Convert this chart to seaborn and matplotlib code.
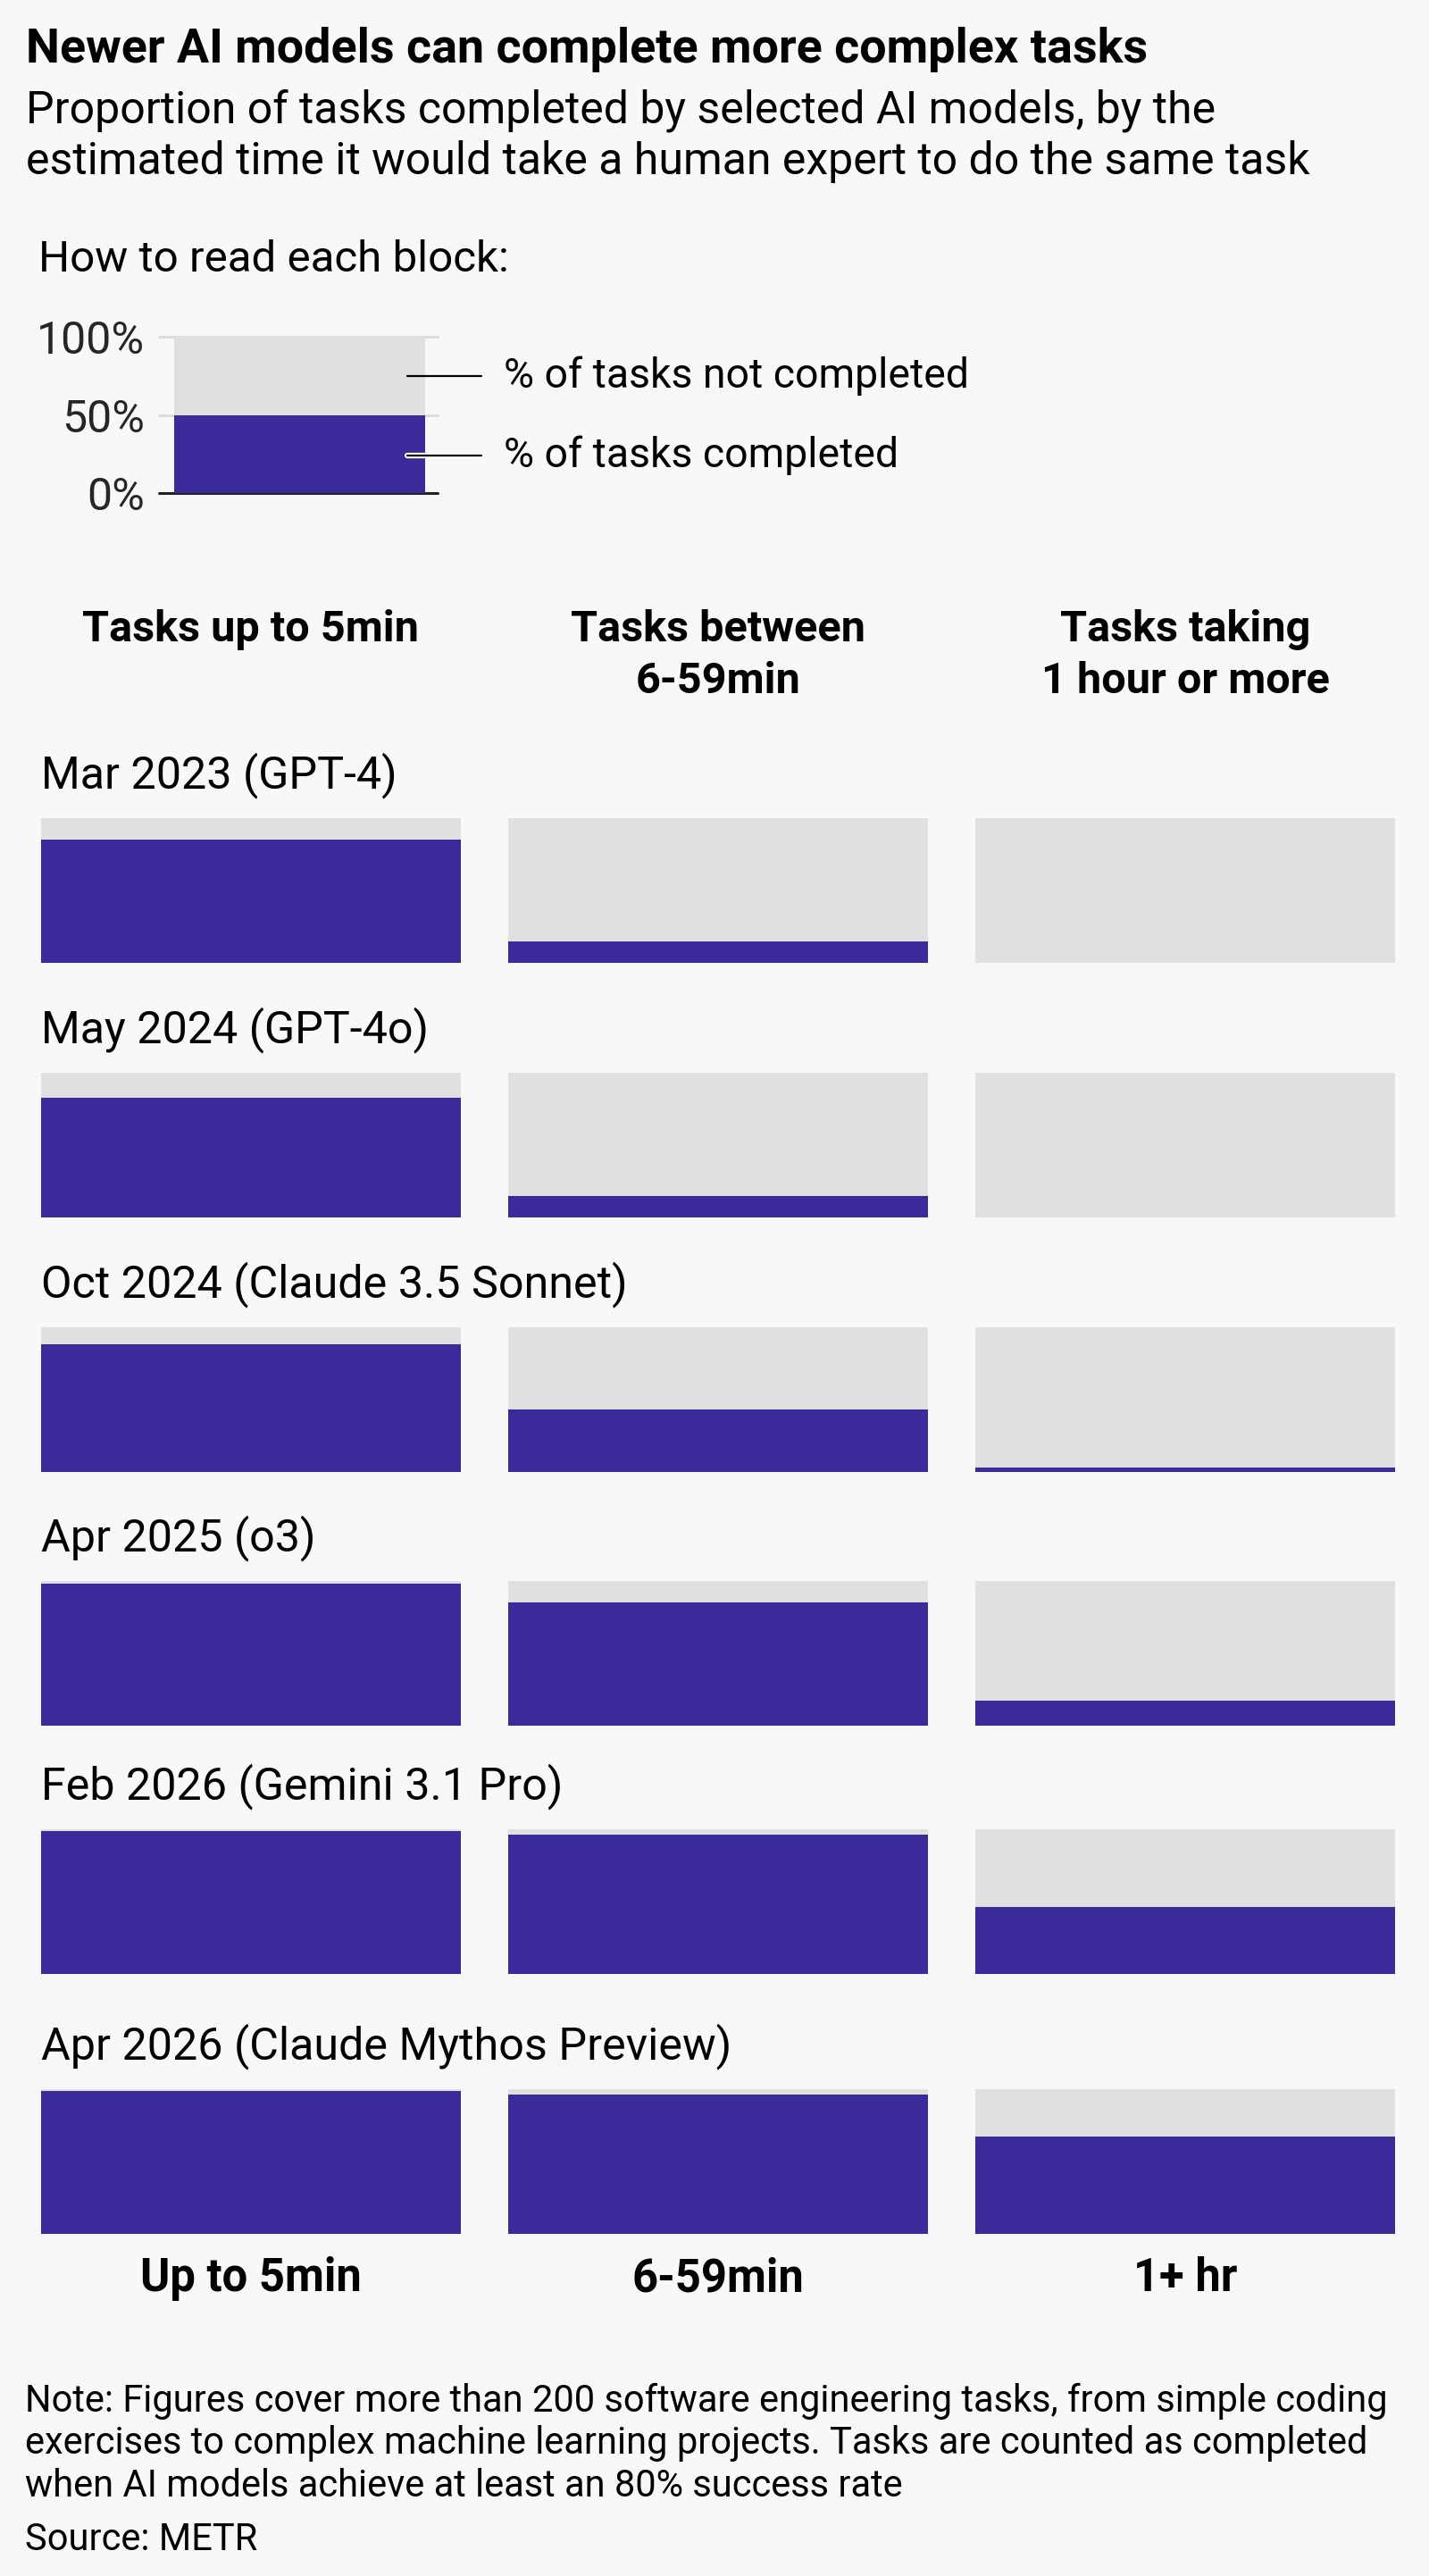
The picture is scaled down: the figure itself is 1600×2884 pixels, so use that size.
import numpy as np
import pandas as pd
import matplotlib
matplotlib.use("Agg")
import matplotlib.pyplot as plt
import matplotlib.patheffects as pe
import seaborn as sns

# data: % of tasks completed (80% success rate) by task length
models = ["Mar 2023 (GPT-4)", "May 2024 (GPT-4o)", "Oct 2024 (Claude 3.5 Sonnet)",
          "Apr 2025 (o3)", "Feb 2026 (Gemini 3.1 Pro)", "Apr 2026 (Claude Mythos Preview)"]
up_to_5min = [85, 83, 88, 98, 99, 99]
min_6_59 = [15, 15, 43, 85, 96, 96]
hr_1_plus = [0, 0, 3, 17, 46, 67]

col_headers = ["Tasks up to 5min", "Tasks between\n6-59min", "Tasks taking\n1 hour or more"]
col_short = ["Up to 5min", "6-59min", "1+ hr"]
full_scale = [100, 100, 100]

key_total = [100]
key_done = [50]
key_ticks = [0, 50, 100]
key_ticklabels = ["0%", "50%", "100%"]

title = "Newer AI models can complete more complex tasks"
subtitle = ("Proportion of tasks completed by selected AI models, by the\n"
            "estimated time it would take a human expert to do the same task")
note = ("Note: Figures cover more than 200 software engineering tasks, from simple coding\n"
        "exercises to complex machine learning projects. Tasks are counted as completed\n"
        "when AI models achieve at least an 80% success rate")
source = "Source: METR"

BLUE = "#3b2a99"
GREY = "#e0e0e0"
BG = "#f8f8f8"

sns.set_theme(style="white", rc={"figure.facecolor": BG, "axes.facecolor": BG,
                                 "savefig.facecolor": BG})
plt.rcParams["font.family"] = ["Roboto", "DejaVu Sans"]
plt.rcParams["text.color"] = "#000000"

W, H = 1600, 2884
fig = plt.figure(figsize=(W / 100, H / 100), dpi=100)


def box(x0, y0, x1, y1):
    return [x0 / W, 1 - y1 / H, (x1 - x0) / W, (y1 - y0) / H]


def ftext(x, y, s, **kw):
    fig.text(x / W, 1 - y / H, s, **kw)


# headline texts
ftext(29, 70, title, fontsize=38.8, fontweight="bold", va="baseline")
for k, line in enumerate(subtitle.split("\n")):
    ftext(29, 137 + k * 58, line, fontsize=36, va="baseline")
ftext(43, 304, "How to read each block:", fontsize=35.5, va="baseline")

# key block
kax = fig.add_axes(box(195, 377, 476, 552))
for v, c in zip(key_ticks, ["#222222", "#dcdcdc", "#dcdcdc"]):
    kax.axhline(v, xmin=-17 / 281, xmax=1 + 14 / 281, color=c, lw=2.2,
                clip_on=False, zorder=0)
sns.barplot(x=[0], y=key_total, color=GREY, width=1, saturation=1, linewidth=0,
            ax=kax, zorder=2)
sns.barplot(x=[0], y=key_done, color=BLUE, width=1, saturation=1, linewidth=0,
            ax=kax, zorder=2)
kax.set_xlim(-0.5, 0.5)
kax.set_ylim(0, 100)
kax.set_yticks(key_ticks)
kax.set_yticklabels(key_ticklabels, fontsize=36)
kax.tick_params(axis="y", length=0, pad=24)
kax.set_xticks([])
kax.set_xlabel("")
kax.set_ylabel("")
sns.despine(ax=kax, left=True, bottom=True)
x_a, x_b, x_t = 0.429, 0.724, 0.813
kax.plot([x_a, x_b], [75, 75], color="black", lw=1.6, clip_on=False, zorder=5)
kax.plot([x_a, x_b], [24, 24], color="black", lw=1.6, clip_on=False, zorder=5,
         solid_capstyle="round",
         path_effects=[pe.Stroke(linewidth=4.5, foreground="white"), pe.Normal()])
kax.text(x_t, 75, "% of tasks not completed", fontsize=33.4, va="center", clip_on=False)
kax.text(x_t, 24, "% of tasks completed", fontsize=33.4, va="center", clip_on=False)

# column headers
centers = [281, 804, 1327]
for cx, head in zip(centers, col_headers):
    for k, line in enumerate(head.split("\n")):
        ftext(cx, 718 + k * 58, line, fontsize=35, fontweight="bold",
              ha="center", va="baseline")

# one row of blocks per model
tops = [916, 1201, 1486, 1770, 2048, 2339]
for i, name in enumerate(models):
    top = tops[i]
    ax = fig.add_axes(box(19.5, top, 1588.5, top + 162))
    done = [up_to_5min[i], min_6_59[i], hr_1_plus[i]]
    df = pd.DataFrame({"bucket": col_short, "full": full_scale, "done": done})
    sns.barplot(data=df, x="bucket", y="full", order=col_short, color=GREY,
                width=0.9, saturation=1, linewidth=0, ax=ax)
    sns.barplot(data=df, x="bucket", y="done", order=col_short, color=BLUE,
                width=0.9, saturation=1, linewidth=0, ax=ax)
    ax.set_xlim(-0.5, 2.5)
    ax.set_ylim(0, 100)
    ax.axis("off")
    ftext(46, top - 34, name, fontsize=36.2, va="baseline")

# bottom labels
for cx, lab in zip(centers, col_short):
    ftext(cx, 2565, lab, fontsize=36.5, fontweight="bold", ha="center", va="baseline")

for k, line in enumerate(note.split("\n")):
    ftext(28, 2700 + k * 47.5, line, fontsize=30, va="baseline")
ftext(28, 2855, source, fontsize=30, va="baseline")

fig.savefig("out.png", dpi=100)
